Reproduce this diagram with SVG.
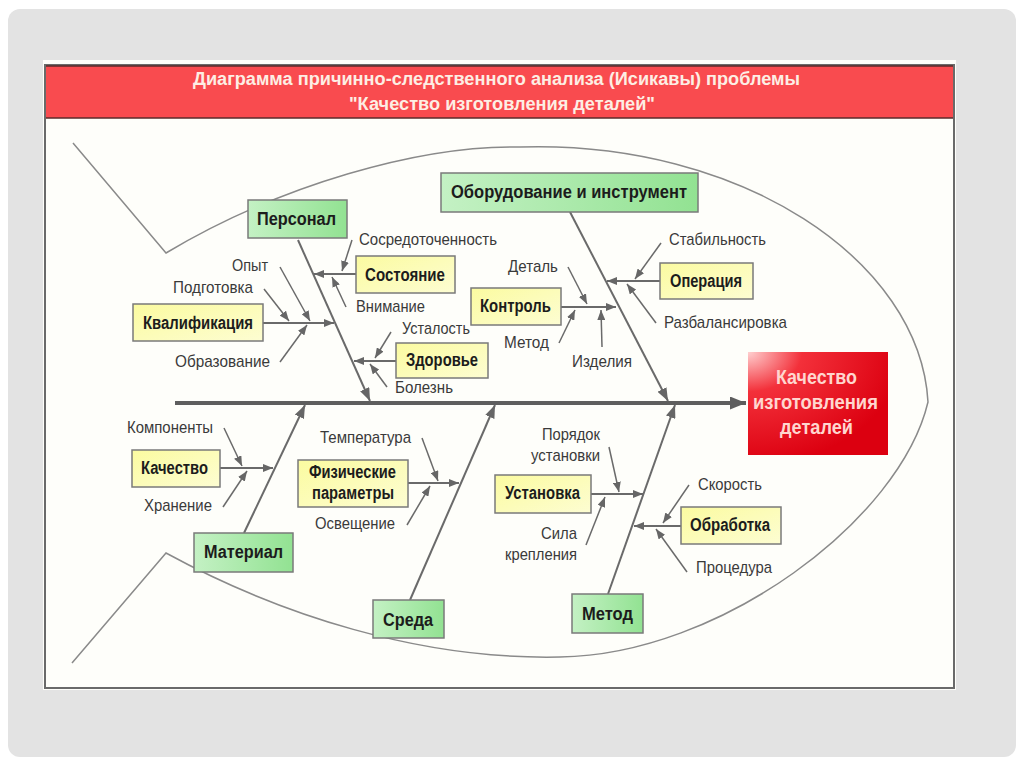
<svg xmlns="http://www.w3.org/2000/svg" width="1024" height="767" viewBox="0 0 1024 767">
<defs>
<style>
.lbl{font-family:"Liberation Sans Narrow","Liberation Sans",Arial,sans-serif;font-size:17px;fill:#3a3a3a}
.bl{font-family:"Liberation Sans Narrow","Liberation Sans",Arial,sans-serif;font-size:18px;font-weight:bold;fill:#1c1c1c}
.ttl{font-family:"Liberation Sans Narrow","Liberation Sans",Arial,sans-serif;font-size:18px;font-weight:bold;fill:#fdeee4}
.eff{font-family:"Liberation Sans Narrow","Liberation Sans",Arial,sans-serif;font-size:20px;font-weight:bold;fill:#ffd6cf}
.gbox{fill:url(#gg);stroke:#7a7a7a;stroke-width:1.5}
.ybox{fill:url(#yg);stroke:#7a7a7a;stroke-width:1.5}
.c{stroke:#6a6a6a;stroke-width:1.5;fill:none;marker-end:url(#a)}
.m{stroke:#6a6a6a;stroke-width:2;fill:none;marker-end:url(#am)}
.h{stroke:#6a6a6a;stroke-width:2;fill:none;marker-end:url(#a)}
</style>
<linearGradient id="gg" x1="0" y1="0" x2="1" y2="0">
<stop offset="0" stop-color="#c4f1c4"/><stop offset="1" stop-color="#92e292"/>
</linearGradient>
<linearGradient id="yg" x1="0" y1="0" x2="1" y2="1">
<stop offset="0" stop-color="#fbfba0"/><stop offset="1" stop-color="#fdfdd2"/>
</linearGradient>
<radialGradient id="rg" cx="0" cy="0" r="1.1">
<stop offset="0" stop-color="#ffd0d0"/><stop offset="0.35" stop-color="#f3303a"/><stop offset="1" stop-color="#dc0010"/>
</radialGradient>
<marker id="a" viewBox="0 0 10 8" refX="10" refY="4" markerWidth="10" markerHeight="8" markerUnits="userSpaceOnUse" orient="auto"><path d="M0,0 L10,4 L0,8 z" fill="#666"/></marker>
<marker id="am" viewBox="0 0 13 10" refX="13" refY="5" markerWidth="13" markerHeight="10" markerUnits="userSpaceOnUse" orient="auto"><path d="M0,0 L13,5 L0,10 z" fill="#666"/></marker>
<marker id="as" viewBox="0 0 16 13" refX="16" refY="6.5" markerWidth="16" markerHeight="13" markerUnits="userSpaceOnUse" orient="auto"><path d="M0,0 L16,6.5 L0,13 z" fill="#5e5e5e"/></marker>
</defs>
<rect x="0" y="0" width="1024" height="767" fill="#ffffff"/>
<rect x="8" y="9" width="1008" height="748" rx="12" fill="#e3e3e3"/>
<rect x="43" y="60" width="913" height="630" fill="#fefefa"/>
<rect x="45" y="65" width="909" height="623" fill="none" stroke="#6a6a6a" stroke-width="2"/>
<g id="header">
<rect x="46" y="66" width="907" height="52" fill="#f94b4f"/>
<line x1="46" y1="66" x2="953" y2="66" stroke="#5a2a2a" stroke-width="1.5"/>
<line x1="46" y1="118" x2="953" y2="118" stroke="#5a2a2a" stroke-width="1.5"/>
<text class="ttl" x="193" y="85" textLength="607" lengthAdjust="spacingAndGlyphs">Диаграмма причинно-следственного анализа (Исикавы) проблемы</text>
<text class="ttl" x="349" y="110" textLength="306" lengthAdjust="spacingAndGlyphs">"Качество изготовления деталей"</text>
</g>
<g id="fish">
<path d="M73,143 L166,253 C280,185 420,145 520,147 C740,140 920,260 928,402 C900,520 720,655 560,657 C420,660 280,615 166,553 L72,663" fill="none" stroke="#8a8a8a" stroke-width="1.5"/>
</g>
<g id="connectors">
<line x1="175" y1="403" x2="746" y2="403" stroke="#5e5e5e" stroke-width="4" marker-end="url(#as)"/>
<line class="m" x1="298" y1="240" x2="370" y2="401"/>
<line class="m" x1="570" y1="212" x2="668" y2="401"/>
<line class="m" x1="244" y1="533" x2="305" y2="405"/>
<line class="m" x1="410" y1="600" x2="495" y2="405"/>
<line class="m" x1="608" y1="594" x2="675" y2="405"/>
<line class="h" x1="356" y1="274" x2="314" y2="274"/>
<line class="h" x1="263" y1="323" x2="334" y2="323"/>
<line class="h" x1="396" y1="361" x2="354" y2="361"/>
<line class="h" x1="561" y1="307" x2="616" y2="307"/>
<line class="h" x1="660" y1="281" x2="607" y2="281"/>
<line class="h" x1="220" y1="468" x2="273" y2="468"/>
<line class="h" x1="408" y1="483" x2="459" y2="483"/>
<line class="h" x1="591" y1="494" x2="643" y2="494"/>
<line class="h" x1="681" y1="526" x2="634" y2="526"/>
<line class="c" x1="352" y1="240" x2="342" y2="271"/>
<line class="c" x1="346" y1="307" x2="332" y2="277"/>
<line class="c" x1="280" y1="267" x2="310" y2="321"/>
<line class="c" x1="264" y1="289" x2="289" y2="321"/>
<line class="c" x1="280" y1="362" x2="307" y2="325"/>
<line class="c" x1="391" y1="332" x2="375" y2="358"/>
<line class="c" x1="387" y1="387" x2="370" y2="364"/>
<line class="c" x1="568" y1="267" x2="587" y2="304"/>
<line class="c" x1="559" y1="343" x2="575" y2="310"/>
<line class="c" x1="602" y1="347" x2="601" y2="310"/>
<line class="c" x1="661" y1="243" x2="635" y2="279"/>
<line class="c" x1="656" y1="323" x2="627" y2="284"/>
<line class="c" x1="224" y1="428" x2="242" y2="466"/>
<line class="c" x1="223" y1="507" x2="247" y2="471"/>
<line class="c" x1="422" y1="438" x2="438" y2="481"/>
<line class="c" x1="407" y1="525" x2="430" y2="486"/>
<line class="c" x1="609" y1="447" x2="619" y2="492"/>
<line class="c" x1="586" y1="545" x2="605" y2="497"/>
<line class="c" x1="689" y1="485" x2="663" y2="523"/>
<line class="c" x1="687" y1="572" x2="656" y2="529"/>
</g>
<g id="effect">
<rect x="748" y="352" width="140" height="103" fill="url(#rg)"/>
<text class="eff" x="776" y="384" textLength="81" lengthAdjust="spacingAndGlyphs">Качество</text>
<text class="eff" x="753" y="409" textLength="125" lengthAdjust="spacingAndGlyphs">изготовления</text>
<text class="eff" x="780" y="434" textLength="73" lengthAdjust="spacingAndGlyphs">деталей</text>
</g>
<g id="personal"><rect class="gbox" x="248" y="200" width="99" height="38"/><text class="bl" x="257" y="225" textLength="79" lengthAdjust="spacingAndGlyphs">Персонал</text></g>
<g id="oborudovanie"><rect class="gbox" x="441" y="173" width="257" height="39"/><text class="bl" x="451" y="198" textLength="236" lengthAdjust="spacingAndGlyphs">Оборудование и инструмент</text></g>
<g id="material"><rect class="gbox" x="194" y="533" width="99" height="39"/><text class="bl" x="204" y="558" textLength="79" lengthAdjust="spacingAndGlyphs">Материал</text></g>
<g id="sreda"><rect class="gbox" x="373" y="600" width="71" height="38"/><text class="bl" x="383" y="626" textLength="50" lengthAdjust="spacingAndGlyphs">Среда</text></g>
<g id="metod"><rect class="gbox" x="572" y="594" width="71" height="39"/><text class="bl" x="582" y="620" textLength="51" lengthAdjust="spacingAndGlyphs">Метод</text></g>
<g id="sostoyanie"><rect class="ybox" x="356" y="256" width="99" height="37"/><text class="bl" x="365" y="281" textLength="80" lengthAdjust="spacingAndGlyphs">Состояние</text></g>
<g id="kvalifikaciya"><rect class="ybox" x="133" y="304" width="130" height="37"/><text class="bl" x="143" y="329" textLength="110" lengthAdjust="spacingAndGlyphs">Квалификация</text></g>
<g id="zdorovie"><rect class="ybox" x="396" y="343" width="92" height="35"/><text class="bl" x="406" y="366" textLength="72" lengthAdjust="spacingAndGlyphs">Здоровье</text></g>
<g id="kontrol"><rect class="ybox" x="471" y="288" width="90" height="37"/><text class="bl" x="480" y="312" textLength="71" lengthAdjust="spacingAndGlyphs">Контроль</text></g>
<g id="operaciya"><rect class="ybox" x="660" y="263" width="93" height="36"/><text class="bl" x="670" y="287" textLength="72" lengthAdjust="spacingAndGlyphs">Операция</text></g>
<g id="kachestvo"><rect class="ybox" x="132" y="450" width="88" height="37"/><text class="bl" x="141" y="474" textLength="67" lengthAdjust="spacingAndGlyphs">Качество</text></g>
<g id="fiz-parametry"><rect class="ybox" x="298" y="460" width="110" height="47"/><text class="bl" x="309" y="478" textLength="87" lengthAdjust="spacingAndGlyphs">Физические</text><text class="bl" x="312" y="499" textLength="82" lengthAdjust="spacingAndGlyphs">параметры</text></g>
<g id="ustanovka"><rect class="ybox" x="495" y="475" width="96" height="38"/><text class="bl" x="505" y="499" textLength="75" lengthAdjust="spacingAndGlyphs">Установка</text></g>
<g id="obrabotka"><rect class="ybox" x="681" y="507" width="100" height="37"/><text class="bl" x="690" y="531" textLength="80" lengthAdjust="spacingAndGlyphs">Обработка</text></g>
<g id="causes">
<text class="lbl" x="359" y="245" textLength="138" lengthAdjust="spacingAndGlyphs">Сосредоточенность</text>
<text class="lbl" x="356" y="312" textLength="69" lengthAdjust="spacingAndGlyphs">Внимание</text>
<text class="lbl" x="232" y="271" textLength="36" lengthAdjust="spacingAndGlyphs">Опыт</text>
<text class="lbl" x="173" y="293" textLength="80" lengthAdjust="spacingAndGlyphs">Подготовка</text>
<text class="lbl" x="175" y="367" textLength="95" lengthAdjust="spacingAndGlyphs">Образование</text>
<text class="lbl" x="402" y="334" textLength="68" lengthAdjust="spacingAndGlyphs">Усталость</text>
<text class="lbl" x="395" y="393" textLength="58" lengthAdjust="spacingAndGlyphs">Болезнь</text>
<text class="lbl" x="508" y="272" textLength="50" lengthAdjust="spacingAndGlyphs">Деталь</text>
<text class="lbl" x="504" y="348" textLength="45" lengthAdjust="spacingAndGlyphs">Метод</text>
<text class="lbl" x="572" y="367" textLength="60" lengthAdjust="spacingAndGlyphs">Изделия</text>
<text class="lbl" x="669" y="245" textLength="97" lengthAdjust="spacingAndGlyphs">Стабильность</text>
<text class="lbl" x="664" y="328" textLength="123" lengthAdjust="spacingAndGlyphs">Разбалансировка</text>
<text class="lbl" x="127" y="433" textLength="86" lengthAdjust="spacingAndGlyphs">Компоненты</text>
<text class="lbl" x="144" y="511" textLength="68" lengthAdjust="spacingAndGlyphs">Хранение</text>
<text class="lbl" x="320" y="443" textLength="91" lengthAdjust="spacingAndGlyphs">Температура</text>
<text class="lbl" x="315" y="529" textLength="80" lengthAdjust="spacingAndGlyphs">Освещение</text>
<text class="lbl" x="542" y="440" textLength="58" lengthAdjust="spacingAndGlyphs">Порядок</text>
<text class="lbl" x="531" y="461" textLength="69" lengthAdjust="spacingAndGlyphs">установки</text>
<text class="lbl" x="541" y="539" textLength="36" lengthAdjust="spacingAndGlyphs">Сила</text>
<text class="lbl" x="505" y="560" textLength="72" lengthAdjust="spacingAndGlyphs">крепления</text>
<text class="lbl" x="698" y="490" textLength="64" lengthAdjust="spacingAndGlyphs">Скорость</text>
<text class="lbl" x="696" y="573" textLength="76" lengthAdjust="spacingAndGlyphs">Процедура</text>
</g>
</svg>
